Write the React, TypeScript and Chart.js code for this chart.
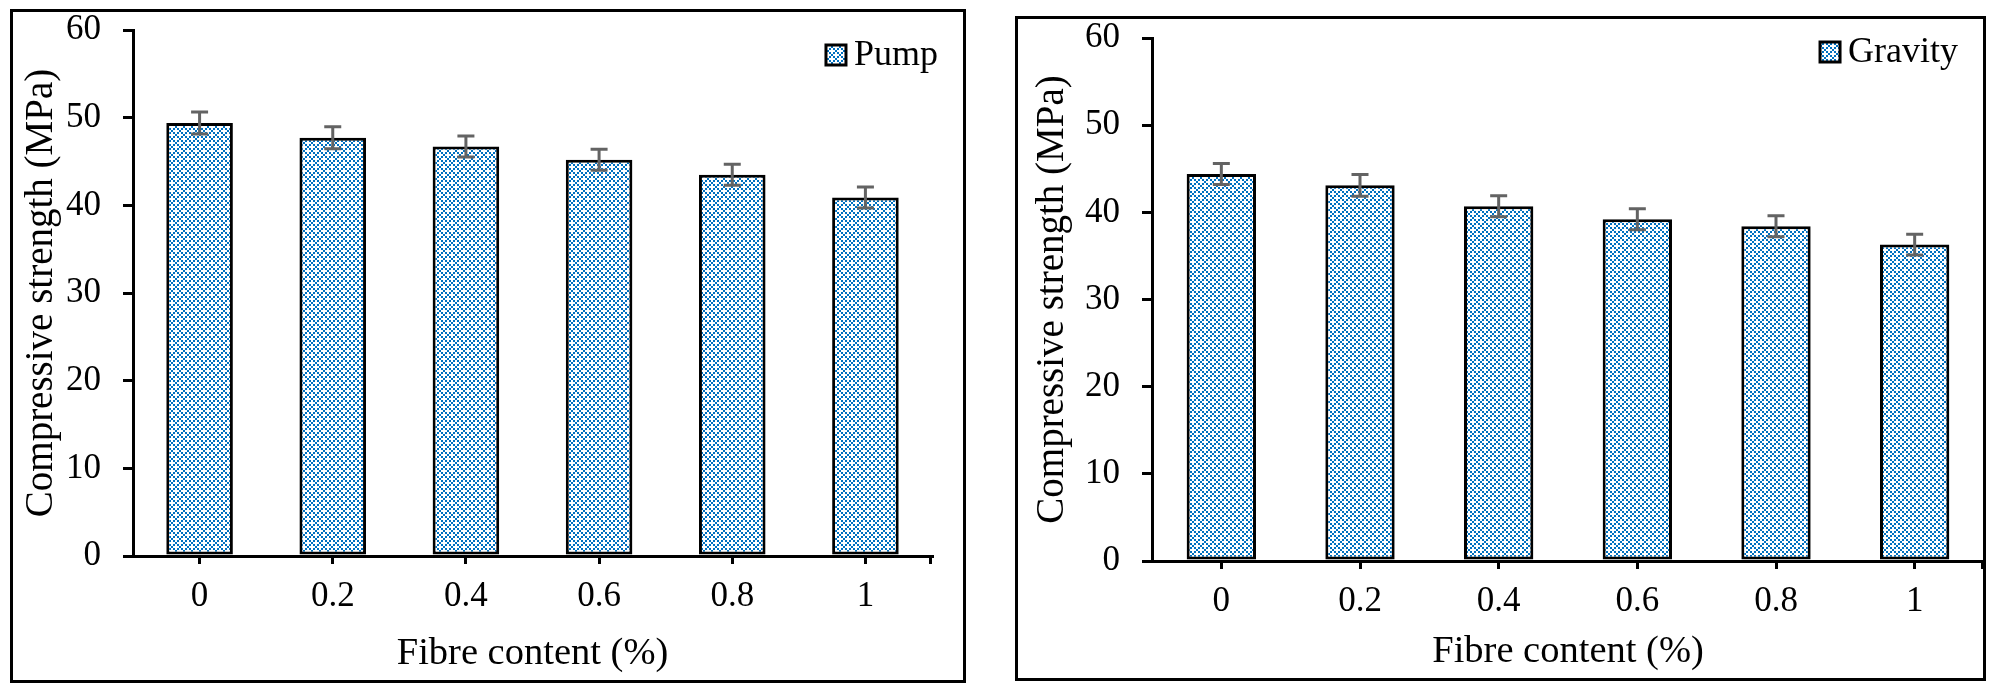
import React, { useEffect, useRef } from "react";
import { Chart, registerables } from "chart.js";

Chart.register(...registerables);

// ---------- data ----------
const categories = ["0", "0.2", "0.4", "0.6", "0.8", "1"];
const pumpLabel = "Pump";
const pumpValues = [49.4, 47.7, 46.7, 45.2, 43.5, 40.9];
const pumpErrors = [1.25, 1.25, 1.2, 1.2, 1.2, 1.2];
const gravityLabel = "Gravity";
const gravityValues = [44.4, 43.1, 40.7, 39.2, 38.4, 36.3];
const gravityErrors = [1.2, 1.25, 1.2, 1.2, 1.2, 1.2];
const yMin = 0;
const yMax = 60;
const yStep = 10;
const xTitle = "Fibre content (%)";
const yTitle = "Compressive strength (MPa)";

const FONT = "'Times New Roman', 'Liberation Serif', serif";
const BLUE = "#0070C0";

function makePattern(ctx: CanvasRenderingContext2D): CanvasPattern | string {
  const c = document.createElement("canvas");
  c.width = 8;
  c.height = 8;
  const p = c.getContext("2d");
  if (!p) return BLUE;
  p.fillStyle = "#ffffff";
  p.fillRect(0, 0, 8, 8);
  p.fillStyle = BLUE;
  for (let i = 0; i < 4; i++) {
    for (let j = 0; j < 4; j++) {
      if ((i - j + 4) % 4 === 0 || (i + j) % 4 === 0) {
        p.fillRect(i * 2, j * 2, 2, 2);
      }
    }
  }
  return ctx.createPattern(c, "repeat") || BLUE;
}

const errorBarPlugin = {
  id: "errorBars",
  afterDatasetsDraw(chart: any, _args: any, opts: any) {
    const { ctx } = chart;
    const yScale = chart.scales.y;
    const errs: number[] = opts.errors || [];
    const cap = opts.cap ?? 8.5;
    chart.data.datasets.forEach((ds: any, di: number) => {
      const meta = chart.getDatasetMeta(di);
      meta.data.forEach((bar: any, i: number) => {
        const v = ds.data[i];
        const e = errs[i] ?? 0;
        const yt = yScale.getPixelForValue(v + e);
        const yb = yScale.getPixelForValue(v - e);
        ctx.save();
        ctx.strokeStyle = opts.color || "#636363";
        ctx.lineWidth = opts.width || 3;
        ctx.beginPath();
        ctx.moveTo(bar.x, yt);
        ctx.lineTo(bar.x, yb);
        ctx.moveTo(bar.x - cap, yt);
        ctx.lineTo(bar.x + cap, yt);
        ctx.moveTo(bar.x - cap, yb);
        ctx.lineTo(bar.x + cap, yb);
        ctx.stroke();
        ctx.restore();
      });
    });
  },
};

const endTickPlugin = {
  id: "endTick",
  afterDraw(chart: any, _args: any, opts: any) {
    const { ctx, chartArea } = chart;
    ctx.save();
    ctx.strokeStyle = "#000";
    ctx.lineWidth = 3;
    ctx.beginPath();
    const x = chartArea.right - 1.5;
    ctx.moveTo(x, chartArea.bottom);
    ctx.lineTo(x, chartArea.bottom + (opts.length || 8));
    ctx.stroke();
    ctx.restore();
  },
};

const boxLegendPlugin = {
  id: "boxLegend",
  afterDraw(chart: any, _args: any, opts: any) {
    const { ctx } = chart;
    const ds = chart.data.datasets[0];
    const text = ds.label;
    ctx.save();
    ctx.font = `${opts.fontSize}px ${FONT}`;
    const tw = ctx.measureText(text).width;
    const textRight = chart.width - opts.right;
    const textLeft = textRight - tw;
    const box = opts.box;
    const boxLeft = textLeft - opts.gap - box;
    const cy = opts.centerY;
    ctx.fillStyle = ds.backgroundColor;
    ctx.fillRect(boxLeft, cy - box / 2, box, box);
    ctx.strokeStyle = "#000";
    ctx.lineWidth = 3;
    ctx.strokeRect(boxLeft, cy - box / 2, box, box);
    ctx.fillStyle = "#000";
    ctx.textBaseline = "middle";
    ctx.textAlign = "left";
    ctx.fillText(text, textLeft, cy + 1);
    ctx.restore();
  },
};

type PanelProps = {
  label: string;
  values: number[];
  errors: number[];
  left: number;
  top: number;
  width: number;
  height: number;
  yAxisWidth: number;
  xAxisHeight: number;
  padTop: number;
  padRight: number;
  yTitlePad: number;
  xTitlePad: number;
  legendRight: number;
  legendY: number;
};

function Panel(props: PanelProps) {
  const ref = useRef<HTMLCanvasElement | null>(null);
  useEffect(() => {
    const canvas = ref.current;
    if (!canvas) return;
    const ctx = canvas.getContext("2d");
    if (!ctx) return;
    const pattern = makePattern(ctx);
    const chart = new Chart(canvas, {
      type: "bar",
      data: {
        labels: categories,
        datasets: [
          {
            label: props.label,
            data: props.values,
            backgroundColor: pattern as any,
            borderColor: "#000",
            borderWidth: 3,
            borderSkipped: false,
            categoryPercentage: 1,
            barPercentage: 0.5,
          },
        ],
      },
      options: {
        animation: false,
        responsive: false,
        maintainAspectRatio: false,
        events: [],
        layout: {
          padding: { top: props.padTop, right: props.padRight, left: 0, bottom: 0 },
        },
        plugins: {
          legend: { display: false },
          tooltip: { enabled: false },
          errorBars: { errors: props.errors, color: "#636363", width: 3, cap: 8.5 },
          endTick: { length: 8 },
          boxLegend: {
            fontSize: 36,
            right: props.legendRight,
            centerY: props.legendY,
            box: 20,
            gap: 8,
          },
        } as any,
        scales: {
          x: {
            type: "category",
            offset: true,
            grid: {
              offset: false,
              drawOnChartArea: false,
              drawTicks: true,
              tickLength: 8,
              color: "#000",
              lineWidth: 3,
              tickWidth: 3,
              tickColor: "#000",
            } as any,
            border: { display: true, color: "#000", width: 3 },
            ticks: {
              color: "#000",
              font: { family: FONT, size: 35 },
              padding: 12,
              maxRotation: 0,
              autoSkip: false,
            },
            title: {
              display: true,
              text: xTitle,
              color: "#000",
              font: { family: FONT, size: 38.5 },
              padding: { top: 0, bottom: props.xTitlePad },
            },
            afterFit: (scale: any) => {
              scale.height = props.xAxisHeight;
              scale.paddingLeft = 0;
              scale.paddingRight = 0;
            },
          },
          y: {
            type: "linear",
            min: yMin,
            max: yMax,
            ticks: {
              stepSize: yStep,
              color: "#000",
              font: { family: FONT, size: 35 },
              padding: 22,
            },
            grid: {
              drawOnChartArea: false,
              drawTicks: true,
              tickLength: 10,
              color: "#000",
              lineWidth: 3,
              tickWidth: 3,
              tickColor: "#000",
            } as any,
            border: { display: true, color: "#000", width: 3 },
            title: {
              display: true,
              text: yTitle,
              color: "#000",
              font: { family: FONT, size: 39 },
              padding: { top: props.yTitlePad, bottom: 0 },
            },
            afterFit: (scale: any) => {
              scale.width = props.yAxisWidth;
              scale.paddingTop = 0;
              scale.paddingBottom = 0;
            },
          },
        },
      },
      plugins: [errorBarPlugin, endTickPlugin, boxLegendPlugin],
    });
    return () => {
      chart.destroy();
    };
  }, []);

  return (
    <canvas
      ref={ref}
      width={props.width}
      height={props.height}
      style={{
        position: "absolute",
        left: props.left,
        top: props.top,
        width: props.width,
        height: props.height,
      }}
    />
  );
}

export default function App() {
  return (
    <div
      style={{
        position: "absolute",
        left: 0,
        top: 0,
        width: 1994,
        height: 699,
        background: "#fff",
        overflow: "hidden",
      }}
    >
      <Panel
        label={pumpLabel}
        values={pumpValues}
        errors={pumpErrors}
        left={11}
        top={10}
        width={954}
        height={672}
        yAxisWidth={122}
        xAxisHeight={126}
        padTop={20}
        padRight={33}
        yTitlePad={7}
        xTitlePad={5}
        legendRight={27}
        legendY={45}
      />
      <Panel
        label={gravityLabel}
        values={gravityValues}
        errors={gravityErrors}
        left={1016}
        top={17}
        width={968}
        height={662}
        yAxisWidth={136}
        xAxisHeight={118}
        padTop={21}
        padRight={0}
        yTitlePad={13}
        xTitlePad={4}
        legendRight={26}
        legendY={35}
      />
      <div
        style={{
          position: "absolute",
          left: 10,
          top: 9,
          width: 956,
          height: 674,
          border: "3px solid #000",
          boxSizing: "border-box",
          pointerEvents: "none",
        }}
      />
      <div
        style={{
          position: "absolute",
          left: 1015,
          top: 16,
          width: 971,
          height: 665,
          border: "3px solid #000",
          boxSizing: "border-box",
          pointerEvents: "none",
        }}
      />
    </div>
  );
}
